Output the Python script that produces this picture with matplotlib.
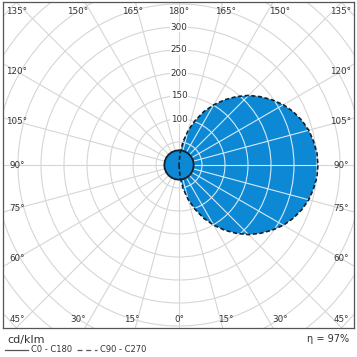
import numpy as np
import matplotlib
matplotlib.use("Agg")
import matplotlib.pyplot as plt
from matplotlib.patches import Polygon, Circle
from matplotlib.lines import Line2D

# intensity values in cd/klm, gamma measured from straight down
gamma_c0 = [0, 15, 30, 45, 60, 75, 90, 105, 120, 135, 150, 165, 180]
c0 = [32, 32, 32, 32, 32, 32, 32, 32, 32, 32, 32, 32, 32]
c180 = [32, 32, 32, 32, 32, 32, 32, 32, 32, 32, 32, 32, 32]

gamma_c90 = list(range(0, 181, 5))
c90 = [0, 26, 52, 78, 103, 128, 151, 173, 194, 214, 231, 247, 262, 274, 284,
       292, 297, 301, 302, 301, 297, 292, 284, 274, 262, 247, 231, 214, 194,
       173, 151, 128, 103, 78, 52, 26, 0]
c270 = [0] * len(gamma_c90)

ring_values = [50, 100, 150, 200, 250, 300, 350, 400, 450, 500, 550]
ring_labels = [100, 150, 200, 250, 300]
eta = 97

BLUE = "#0c88d4"
GRID = "#d6d6d6"
TXT = "#333333"

W = 357
u = 1 / 0.46  # cd/klm per pixel

fig = plt.figure(figsize=(W / 100, W / 100), dpi=100)
ax = fig.add_axes([3 / W, 29 / W, 351 / W, 326 / W])
ax.set_xlim(-176 * u, 175 * u)
ax.set_ylim(-163 * u, 163 * u)
ax.set_xticks([])
ax.set_yticks([])
for s in ax.spines.values():
    s.set_color("#555555")
    s.set_linewidth(0.9)


def side_points(gam, vals, sign):
    g = np.radians(gam)
    v = np.asarray(vals, float)
    return sign * v * np.sin(g), -v * np.cos(g)


def draw_grid(color, zorder, clip=None):
    arts = []
    for r in ring_values:
        c = Circle((0, 0), r, fill=False, ec=color, lw=0.8, zorder=zorder)
        ax.add_patch(c)
        arts.append(c)
    for a in range(0, 360, 15):
        t = np.radians(a)
        ln, = ax.plot([0, 700 * np.cos(t)], [0, 700 * np.sin(t)],
                      color=color, lw=0.8, zorder=zorder)
        arts.append(ln)
    if clip is not None:
        for art in arts:
            art.set_clip_path(clip)


draw_grid(GRID, 1)

# C90 - C270 lobe
xr, yr = side_points(gamma_c90, c90, 1)
xl, yl = side_points(gamma_c90, c270, -1)
big_xy = np.column_stack([np.r_[xr, xl[::-1]], np.r_[yr, yl[::-1]]])
big = Polygon(big_xy, closed=True, fc=BLUE, ec="none", zorder=2)
ax.add_patch(big)
draw_grid("#d4ebf9", 3, clip=big)

# C0 - C180
xr0, yr0 = side_points(gamma_c0, c0, 1)
xl0, yl0 = side_points(gamma_c0, c180, -1)
small_xy = np.column_stack([np.r_[xr0, xl0[::-1]], np.r_[yr0, yl0[::-1]]])
ax.add_patch(Polygon(small_xy, closed=True, fc=BLUE, ec="#15202b",
                     lw=1.3, zorder=4))
ax.add_patch(Polygon(big_xy, closed=True, fill=False, ec="#15202b", lw=1.2,
                     ls=(0, (2.5, 1.5)), zorder=5))

# ring labels
for r in ring_labels:
    ax.text(0, r, str(r), ha="center", va="center", fontsize=6.3, color=TXT,
            zorder=6, bbox=dict(fc="white", ec="none", pad=0.3))

# angle labels round the frame
hx, hy = 162, 154
for a in range(0, 181, 15):
    for sign in (1, -1):
        if a in (0, 180) and sign < 0:
            continue
        if 45 < a < 135:
            ang = np.radians(a - 90)
            px, py = hx, hx * np.tan(ang)
        else:
            down = a <= 45
            off = a if down else 180 - a
            px = min(175 * np.tan(np.radians(off)), hx)
            py = -155 if down else hy
        ax.text(sign * px * u, py * u, f"{a}°", ha="center", va="center",
                fontsize=6.3, color=TXT, zorder=6)

# legend below the frame
fig.text(7 / W, 1 - 340 / W, "cd/klm", fontsize=8, color=TXT,
         ha="left", va="center")
fig.add_artist(Line2D([5 / W, 28 / W], [1 - 350 / W] * 2, color="#555555",
                      lw=0.9))
fig.text(31 / W, 1 - 350 / W, "C0 - C180", fontsize=6, color=TXT,
         ha="left", va="center")
fig.add_artist(Line2D([77 / W, 97 / W], [1 - 350 / W] * 2, color="#555555",
                      lw=0.9, ls=(0, (4, 3))))
fig.text(100 / W, 1 - 350 / W, "C90 - C270", fontsize=6, color=TXT,
         ha="left", va="center")
fig.text(349 / W, 1 - 339 / W, f"η = {eta}%", fontsize=7, color=TXT,
         ha="right", va="center")

fig.savefig("out.png", dpi=100)
